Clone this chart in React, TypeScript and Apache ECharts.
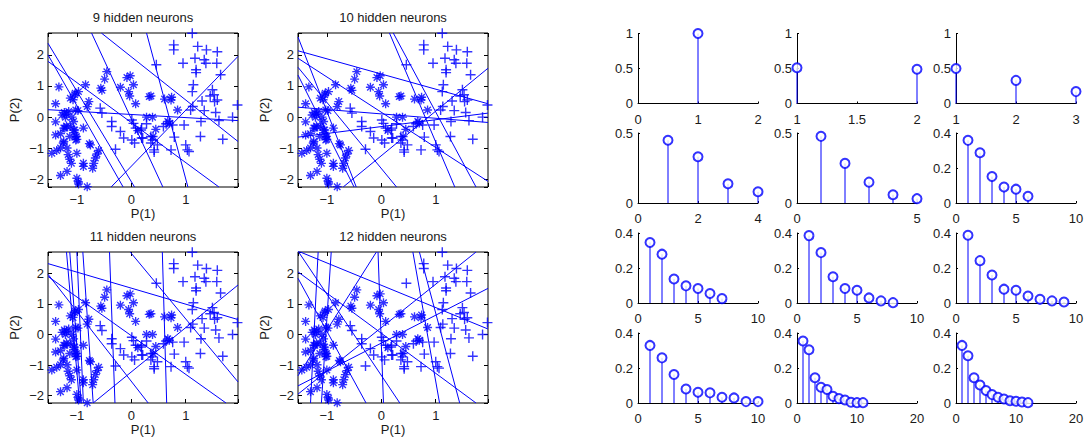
import React, { useEffect, useRef } from 'react';
import * as echarts from 'echarts';

// Two classes of input patterns in the (P(1), P(2)) plane
const starPoints: number[][] = [
  [-1.33, 0.97], [-1.39, 0.43], [-1.54, -0.42], [-1.39, -0.57], [-1.39, -0.15], [-1.27, 0.07],
  [-1.23, 0.15], [-1.21, 0.0], [-1.15, 0.18], [-1.09, 0.0], [-1.06, -0.14], [-1.02, 0.23],
  [-0.98, 0.21], [-1.12, 0.61], [-1.03, 0.77], [-0.97, 0.82], [-0.84, 1.04], [-0.81, 0.34],
  [-0.78, 0.5], [-1.24, -0.35], [-1.19, -0.28], [-1.12, -0.3], [-1.06, -0.41], [-1.03, -0.57],
  [-1.0, -0.71], [-0.88, -0.35], [-0.75, -0.89], [-0.77, -0.85], [-1.24, -0.78], [-1.46, -1.16],
  [-1.37, -1.07], [-1.3, -0.99], [-1.18, -0.99], [-1.16, -1.2], [-1.13, -1.35], [-1.1, -1.48],
  [-1.0, -1.16], [-1.18, -1.74], [-1.3, -1.87], [-0.88, -1.48], [-0.88, -1.58], [-1.0, -1.96],
  [-0.97, -2.08], [-0.97, -2.14], [-0.81, -2.23], [-0.69, -1.48], [-0.66, -1.31], [-0.63, -1.18],
  [-0.6, -1.07], [-0.71, -1.64], [-0.56, 0.93], [-0.54, 0.86], [-0.49, 1.22], [-0.45, 1.46],
  [-0.2, 0.96], [-0.08, 1.27], [-0.02, 1.33], [0.04, 1.04], [-0.05, 0.82], [-0.03, 0.68],
  [0.08, 0.43], [0.33, 0.66], [0.36, 0.68], [0.61, 0.58], [0.73, 0.55], [0.74, 0.64],
  [0.85, 0.23], [0.28, 0.0], [0.39, 0.0], [0.45, -0.39], [0.67, -0.14], [0.7, -0.19],
  [0.12, -0.43], [0.4, -0.62], [-1.07, 0.56], [-1.04, 0.72], [-1.3, -0.53], [-1.22, -0.35],
  [-1.25, -0.83], [-1.13, -0.62], [-1.04, -0.41], [-1.01, -0.62], [-1.02, -0.73], [-1.19, 0.1],
];

const plusPoints: number[][] = [
  [1.12, 2.69], [0.78, 2.32], [0.78, 2.16], [1.22, 2.27], [1.38, 2.16], [1.58, 2.1],
  [0.95, 1.73], [1.17, 1.89], [1.34, 1.84], [1.37, 1.73], [1.57, 1.73], [1.19, 1.52],
  [1.19, 1.43], [1.64, 1.36], [0.46, 1.68], [1.14, 1.04], [1.12, 0.82], [1.49, 0.88],
  [1.52, 0.72], [1.58, 0.55], [1.45, 0.68], [1.53, 0.5], [1.95, 0.39], [1.09, 0.23],
  [1.34, 0.21], [1.55, 0.15], [1.86, 0.0], [1.28, -0.14], [1.61, -0.11], [0.97, -0.25],
  [1.27, -0.62], [1.68, -0.71], [0.79, -0.64], [1.0, -0.89], [1.03, -1.05], [1.06, -1.1],
  [0.73, -1.05], [0.36, -0.62], [0.39, -0.73], [0.36, -0.83], [0.48, -0.89], [0.42, -1.05],
  [0.42, -1.12], [0.18, -0.41], [0.21, -0.67], [0.76, -0.25], [-0.57, 0.29], [-0.54, 0.13],
  [-0.36, -0.14], [-0.36, -0.3], [-0.2, -0.46], [-0.14, -0.67], [0.01, -0.73], [0.06, -0.83],
  [0.19, -0.67], [0.01, -0.09], [0.04, -0.2], [0.19, -0.35], [-0.29, -1.03], [0.64, -0.21],
  [0.59, -0.3], [0.28, -0.21], [0.08, -0.35], [1.3, 0.52], [1.13, 0.34],
];

// Decision boundaries of the hidden neurons: [x1, y1, x2, y2]
const boundaries9: number[][] = [
  [-1.53, 2.37, 0.06, -2.24], [-1.53, 2.0, -0.15, -2.24], [-1.53, 1.79, 1.61, -2.24],
  [-0.73, 2.7, 0.58, -2.24], [-0.55, 2.7, 1.96, -0.78], [0.28, 2.7, 1.04, -2.24],
  [-0.37, -2.24, 1.96, 1.95], [-1.53, 0.24, 1.96, -0.11],
];
const boundaries10: number[][] = [
  [-1.53, 2.57, -0.46, -2.24], [-1.53, 2.13, 1.96, 0.43], [-1.53, 1.89, 1.96, -2.06],
  [-1.53, 1.35, -0.5, -2.24], [-1.53, 0.32, 1.96, -0.17], [-1.53, -0.64, 1.96, 0.13],
  [0.15, 2.7, 1.35, -2.24], [0.22, 2.7, 1.74, -2.24], [-0.7, -2.24, 1.96, 1.57],
  [-1.53, 1.6, 0.28, -2.24],
];
const boundaries11: number[][] = [
  [-1.19, 2.7, -0.95, -2.24], [-1.13, 2.7, -0.92, -2.24], [-0.89, 2.7, -0.7, -2.24],
  [-0.4, 2.7, -0.3, -2.24], [0.57, 2.7, 0.65, -2.24], [-0.02, 2.7, 1.96, -1.55],
  [-1.53, 2.32, 1.96, 0.49], [-1.53, 1.97, 0.31, -2.24], [-1.53, 1.9, 1.74, -2.24],
  [-0.7, -2.24, 1.96, 1.62], [-1.0, 2.7, -0.88, -2.24],
];
const boundaries12: number[][] = [
  [-1.53, 2.73, 1.96, 0.18], [-1.53, 2.73, 0.34, -2.24], [-1.53, 2.05, 1.74, -2.24],
  [-1.53, 1.84, -0.28, -2.24], [-1.16, 2.7, -1.3, -2.24], [-0.92, 2.7, -1.1, -2.24],
  [-0.06, 2.7, 0.04, -2.24], [0.7, 2.7, 1.44, -2.24], [0.58, 2.7, 1.07, -2.24],
  [-1.53, -1.95, 1.74, 2.7], [-1.53, -1.68, 1.96, 1.51], [-1.53, -1.35, -0.09, 2.7],
];

const scatterTitles = ['9 hidden neurons', '10 hidden neurons', '11 hidden neurons', '12 hidden neurons'];
const scatterBoundaries = [boundaries9, boundaries10, boundaries11, boundaries12];
const scatterXRange = [-1.53, 1.96];
const scatterYRange = [-2.24, 2.7];

// Relative contribution of each hidden neuron, for networks of 1 to 12 neurons
const share1 = [1.0];
const share2 = [0.51, 0.49];
const share3 = [0.5, 0.33, 0.17];
const share4 = [0.448, 0.33, 0.137, 0.08];
const share5 = [0.476, 0.283, 0.149, 0.059, 0.031];
const share6 = [0.358, 0.287, 0.151, 0.091, 0.079, 0.038];
const share7 = [0.346, 0.279, 0.137, 0.098, 0.083, 0.054, 0.025];
const share8 = [0.385, 0.288, 0.15, 0.083, 0.073, 0.029, 0.012, 0.002];
const share9 = [0.387, 0.242, 0.16, 0.079, 0.073, 0.04, 0.021, 0.012, 0.006];
const share10 = [0.329, 0.258, 0.163, 0.08, 0.061, 0.058, 0.033, 0.029, 0.008, 0.008];
const share11 = [0.354, 0.304, 0.144, 0.09, 0.077, 0.038, 0.025, 0.017, 0.004, 0.002, 0.002];
const share12 = [0.329, 0.27, 0.144, 0.103, 0.071, 0.048, 0.033, 0.023, 0.013, 0.01, 0.006, 0.002];
const shares = [share1, share2, share3, share4, share5, share6, share7, share8, share9, share10, share11, share12];

// x ticks: [min, max, step]; y ticks: [max, step]
const stemXTicks = [
  [0, 2, 1], [1, 2, 0.5], [1, 3, 1], [0, 4, 2], [0, 5, 5], [0, 10, 5],
  [0, 10, 5], [0, 10, 5], [0, 10, 5], [0, 10, 5], [0, 20, 10], [0, 20, 10],
];
const stemYTicks = [
  [1, 0.5], [1, 0.5], [1, 0.5], [0.5, 0.5], [0.5, 0.5], [0.4, 0.2],
  [0.4, 0.2], [0.4, 0.2], [0.4, 0.2], [0.4, 0.2], [0.4, 0.2], [0.4, 0.2],
];

const BLUE = '#0000ff';
const INK = '#1a1a1a';
const FONT = '"Liberation Sans", Arial, Helvetica, sans-serif';

const PLUS_SYMBOL =
  'path://M-0.14,-1L0.14,-1L0.14,1L-0.14,1ZM-1,-0.14L1,-0.14L1,0.14L-1,0.14Z';
const STAR_SYMBOL =
  'path://M-0.15,-1L0.15,-1L0.15,1L-0.15,1Z' +
  'M-1,-0.15L1,-0.15L1,0.15L-1,0.15Z' +
  'M-0.614,-0.826L0.826,0.614L0.614,0.826L-0.826,-0.614Z' +
  'M0.614,-0.826L0.826,-0.614L-0.614,0.826L-0.826,0.614Z';

const intLabel = (v: number) =>
  Math.abs(v - Math.round(v)) < 1e-9 ? String(Math.round(v)).replace('-', '\u2212') : '';

export default function App() {
  const ref = useRef<HTMLDivElement>(null);

  useEffect(() => {
    if (!ref.current) return;
    const chart = echarts.init(ref.current, undefined, { renderer: 'svg' });

    const scatterGrids = [
      { left: 48, top: 33, width: 190, height: 154 },
      { left: 298, top: 33, width: 190, height: 154 },
      { left: 48, top: 252, width: 190, height: 151 },
      { left: 298, top: 252, width: 190, height: 151 },
    ];
    const stemCols = [638, 797, 956];
    const stemRows = [33.5, 133, 233, 333];

    const grids: any[] = [];
    const xAxes: any[] = [];
    const yAxes: any[] = [];
    const series: any[] = [];
    const graphics: any[] = [];

    const labelStyle = { color: INK, fontSize: 13, fontFamily: FONT };
    const tickStyle = { lineStyle: { color: '#000', width: 1 } };
    const hiddenLine = { show: false, onZero: false };

    scatterGrids.forEach((g, i) => {
      grids.push({ ...g, show: true, borderColor: '#000', borderWidth: 1, backgroundColor: 'transparent' });
      xAxes.push({
        gridIndex: i, type: 'value', position: 'bottom',
        min: scatterXRange[0], max: scatterXRange[1], splitNumber: 3,
        axisLine: hiddenLine, splitLine: { show: false },
        axisTick: { inside: true, length: 4, ...tickStyle },
        axisLabel: { ...labelStyle, margin: 6, formatter: intLabel },
        name: 'P(1)', nameLocation: 'middle', nameGap: 20,
        nameTextStyle: { ...labelStyle },
      });
      yAxes.push({
        gridIndex: i, type: 'value', position: 'left',
        min: scatterYRange[0], max: scatterYRange[1], splitNumber: 5,
        axisLine: hiddenLine, splitLine: { show: false },
        axisTick: { inside: true, length: 4, ...tickStyle },
        axisLabel: { ...labelStyle, margin: 4, formatter: intLabel },
        name: 'P(2)', nameLocation: 'middle', nameGap: 27, nameRotate: 90,
        nameTextStyle: { ...labelStyle },
      });
      graphics.push({
        type: 'text', x: g.left + g.width / 2, y: g.top - 16,
        style: { text: scatterTitles[i], fill: INK, font: `13px ${FONT}`, textAlign: 'center', textVerticalAlign: 'middle' },
      });
    });

    shares.forEach((vals, k) => {
      const gi = 4 + k;
      const [xmin, xmax, xstep] = stemXTicks[k];
      const [ymax, ystep] = stemYTicks[k];
      grids.push({ left: stemCols[k % 3], top: stemRows[Math.floor(k / 3)], width: 120, height: 70 });
      xAxes.push({
        gridIndex: gi, type: 'value', position: 'bottom', min: xmin, max: xmax, interval: xstep,
        axisLine: { show: true, onZero: false, lineStyle: { color: '#000', width: 1 } },
        splitLine: { show: false },
        axisTick: { inside: true, length: 2, ...tickStyle },
        axisLabel: { ...labelStyle, margin: 9 },
      });
      yAxes.push({
        gridIndex: gi, type: 'value', position: 'left', min: 0, max: ymax, interval: ystep,
        axisLine: { show: true, onZero: false, lineStyle: { color: '#000', width: 1 } },
        splitLine: { show: false },
        axisTick: { inside: true, length: 2, ...tickStyle },
        axisLabel: { ...labelStyle, margin: 5 },
      });
      const data = vals.map((v, j) => [j + 1, v]);
      series.push({
        type: 'custom', xAxisIndex: gi, yAxisIndex: gi, data, silent: true,
        encode: { x: 0, y: 1 },
        renderItem: (_p: any, api: any) => {
          const top = api.coord([api.value(0), api.value(1)]);
          const base = api.coord([api.value(0), 0]);
          return {
            type: 'line',
            shape: { x1: top[0], y1: top[1], x2: base[0], y2: base[1] },
            style: { stroke: BLUE, lineWidth: 1 },
          };
        },
      });
      series.push({
        type: 'scatter', xAxisIndex: gi, yAxisIndex: gi, data, silent: true,
        symbol: 'emptyCircle', symbolSize: 9,
        itemStyle: { color: BLUE, borderWidth: 1 },
      });
    });

    // mirrored ticks on the top and right edges of the scatter boxes
    scatterGrids.forEach((_g, i) => {
      xAxes.push({
        gridIndex: i, type: 'value', position: 'top', min: scatterXRange[0], max: scatterXRange[1], splitNumber: 3,
        axisLine: hiddenLine, splitLine: { show: false }, axisLabel: { show: false },
        axisTick: { inside: true, length: 4, ...tickStyle },
      });
      yAxes.push({
        gridIndex: i, type: 'value', position: 'right', min: scatterYRange[0], max: scatterYRange[1], splitNumber: 5,
        axisLine: hiddenLine, splitLine: { show: false }, axisLabel: { show: false },
        axisTick: { inside: true, length: 4, ...tickStyle },
      });
    });

    scatterGrids.forEach((_g, i) => {
      scatterBoundaries[i].forEach((b) => {
        series.push({
          type: 'line', xAxisIndex: i, yAxisIndex: i, silent: true, clip: true,
          data: [[b[0], b[1]], [b[2], b[3]]],
          symbol: 'none', lineStyle: { color: BLUE, width: 1 },
        });
      });
      series.push({
        type: 'scatter', xAxisIndex: i, yAxisIndex: i, silent: true, data: starPoints,
        symbol: STAR_SYMBOL, symbolSize: 9, itemStyle: { color: BLUE },
      });
      series.push({
        type: 'scatter', xAxisIndex: i, yAxisIndex: i, silent: true, data: plusPoints,
        symbol: PLUS_SYMBOL, symbolSize: 10, itemStyle: { color: BLUE },
      });
    });

    chart.setOption({
      animation: false,
      backgroundColor: '#ffffff',
      grid: grids,
      xAxis: xAxes,
      yAxis: yAxes,
      series,
      graphic: graphics,
    });

    return () => chart.dispose();
  }, []);

  return (
    <div
      ref={ref}
      style={{ position: 'absolute', left: 0, top: 0, width: 1088, height: 440, background: '#fff' }}
    />
  );
}
